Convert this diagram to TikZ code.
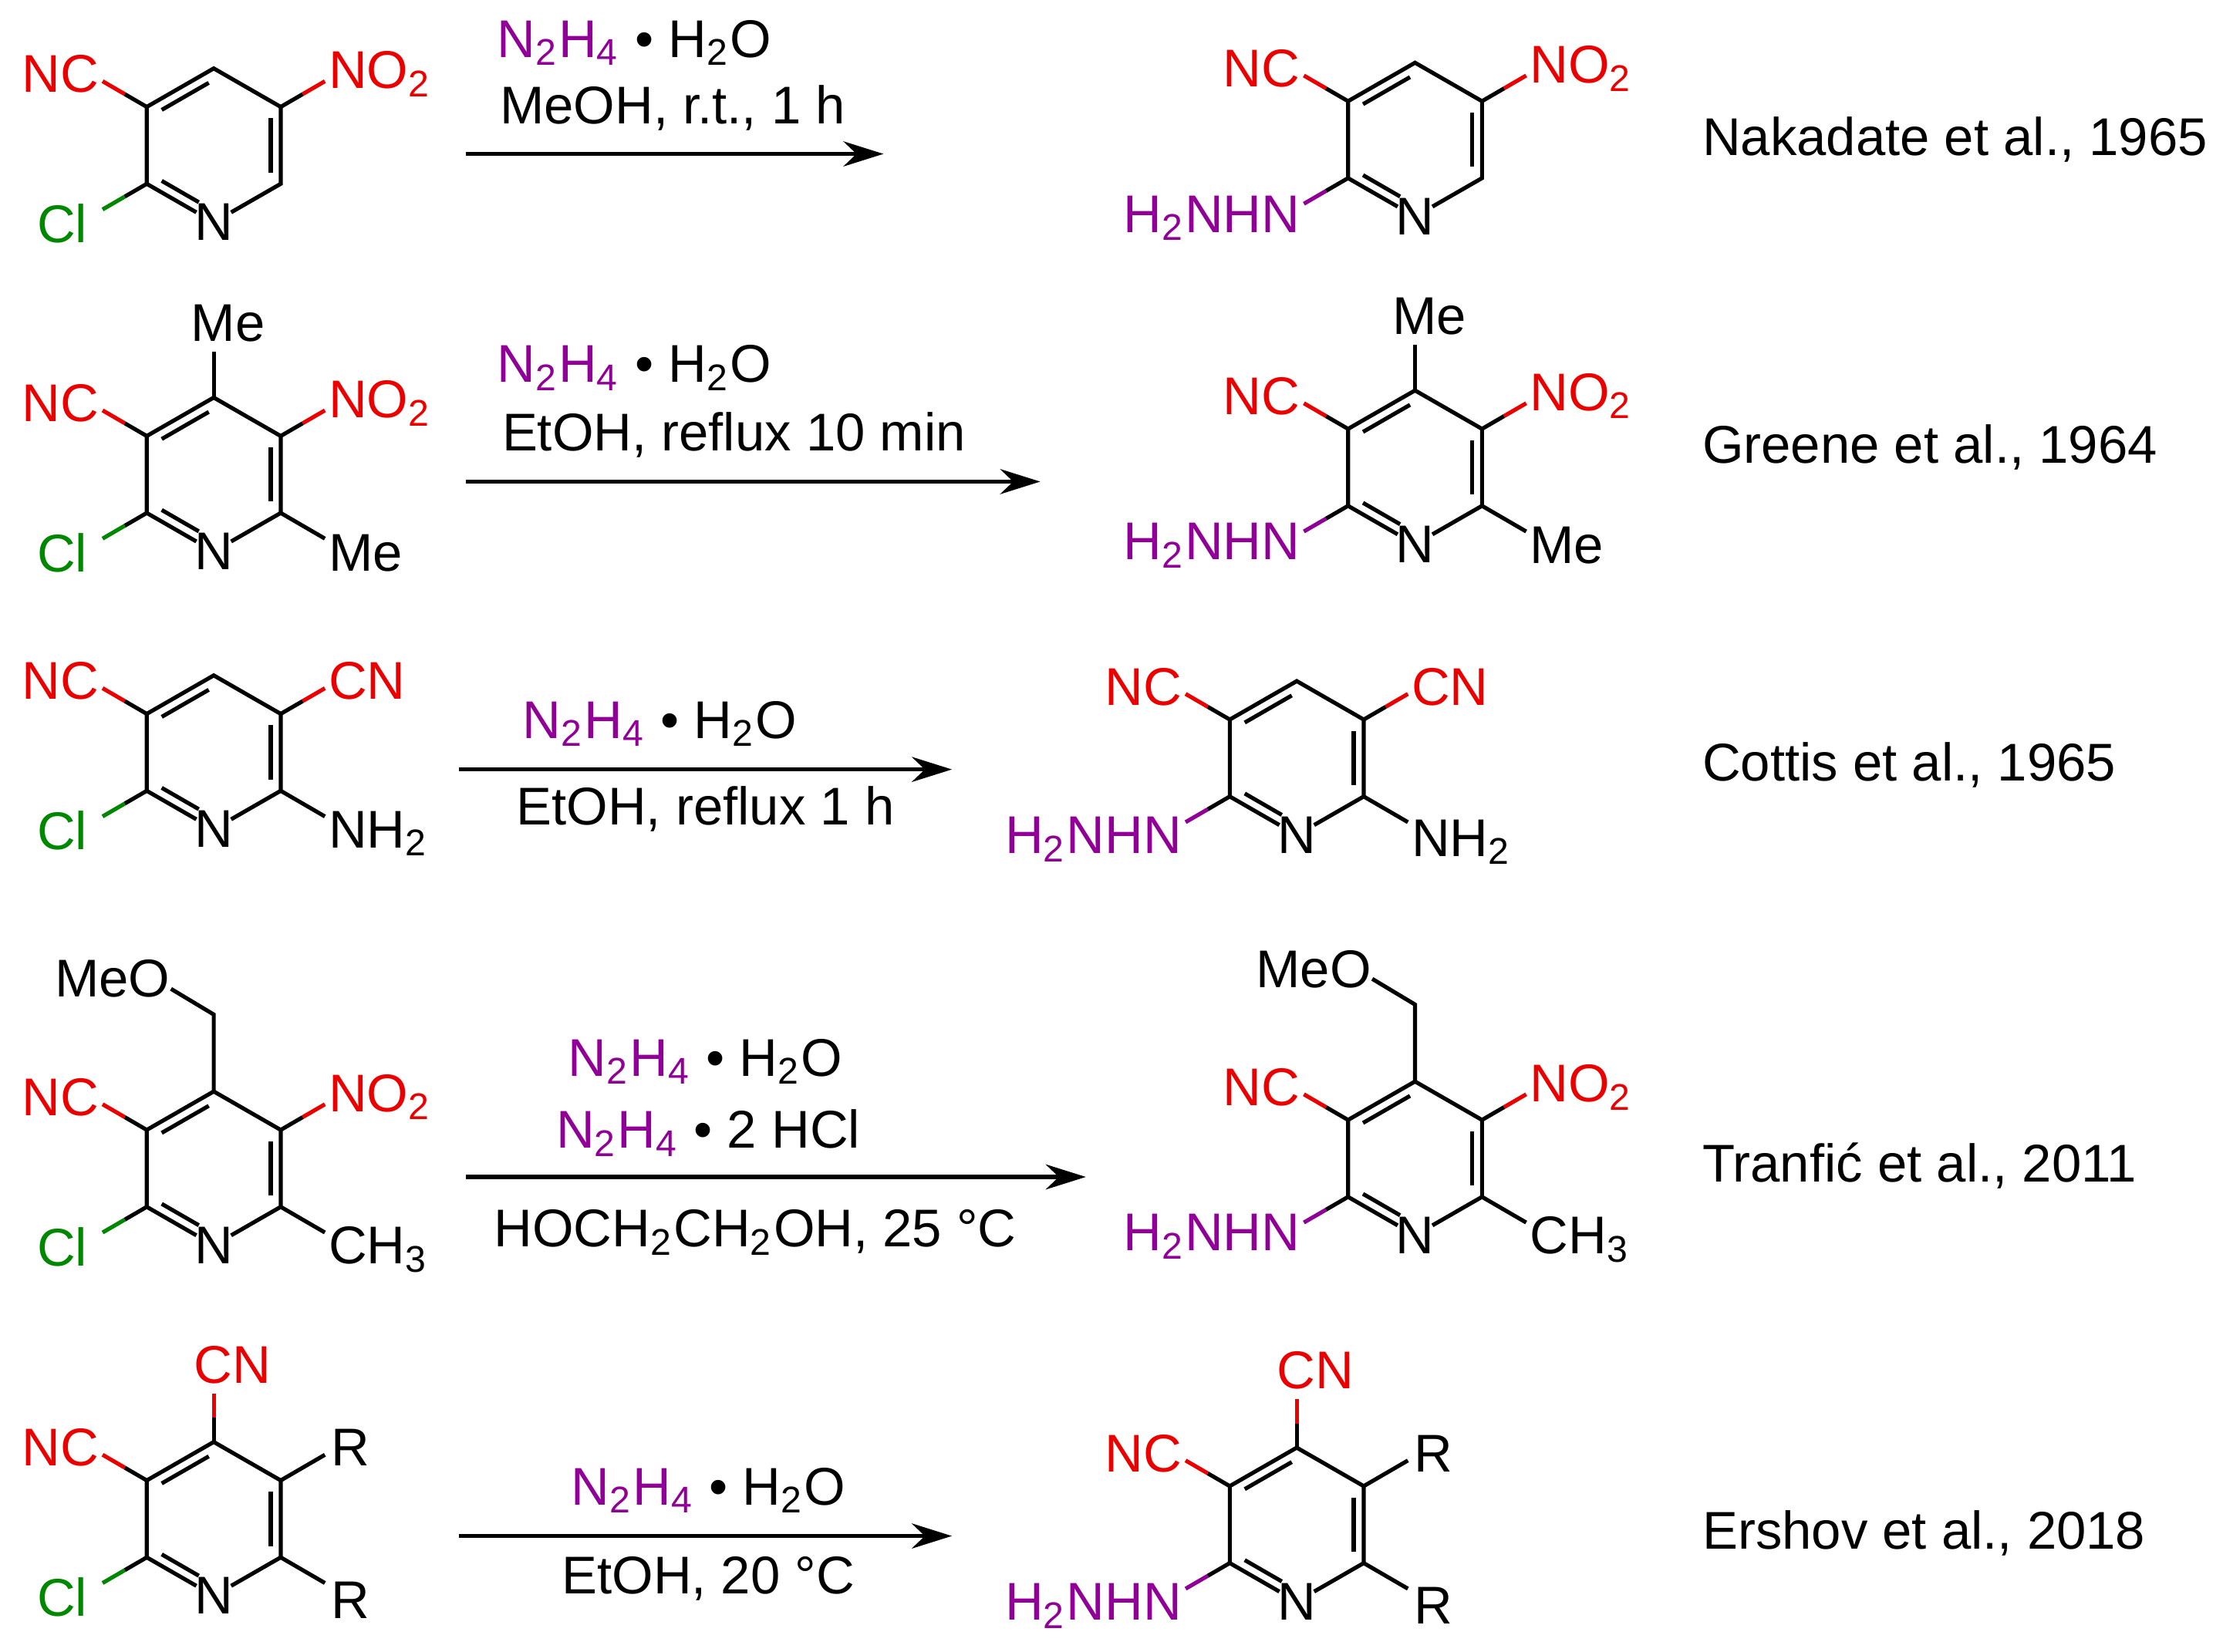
\documentclass[tikz,border=0pt]{standalone}
\usepackage{fontspec}
\setmainfont{Liberation Sans}
\usetikzlibrary{calc,arrows.meta}
\definecolor{nred}{RGB}{235,0,0}
\definecolor{npur}{RGB}{145,0,150}
\definecolor{ngreen}{RGB}{0,135,0}
\tikzset{
  bond/.style={line width=0.8pt},
  lbl/.style={inner sep=0pt,font=\fontsize{10.6}{12}\selectfont},
  rxn/.style={line width=0.8pt,-{Stealth[length=8pt,width=5pt]}},
}
\newcommand{\chsub}[1]{\textsubscript{#1}}
% pyridine ring, N at bottom
\newcommand{\pyring}{%
  \draw[bond] (-47,-27) -- (0,-54) -- (47,-27) -- (47,27) -- (12.2,47);
  \draw[bond] (-12.2,47) -- (-47,27) -- (-47,-27);
  \draw[bond] (-36.5,-24.9) -- (-3.5,-43.9);
  \draw[bond] (40,-19) -- (40,19);
  \draw[bond] (-36.5,24.9) -- (-10.5,39.9);
  \node[lbl] (n) at (0,54) {N};}
% substituent bond, coloured outer half
\newcommand{\subst}[3]{%
  \draw[bond] (#1) -- ($(#1)!.5!(#2)$);
  \draw[bond,#3] ($(#1)!.5!(#2)$) -- (#2);}
\newcommand{\hydr}{\textcolor{npur}{N\chsub{2}H\chsub{4}} \textbullet\ H\chsub{2}O}
\begin{document}
\begin{tikzpicture}[x=0.01cm,y=-0.01cm]
\useasboundingbox (0,0) rectangle (1560,1159);
% ---- row 1
\begin{scope}[shift={(150,102)}]
  \pyring
  \subst{-47,-27}{-78,-45}{nred} \node[lbl,nred,anchor=east] (a1) at (-80,-50) {NC};
  \subst{47,-27}{78,-45}{nred} \node[lbl,nred,anchor=west] (b1) at (80,-50) {NO\chsub{2}};
  \subst{-47,27}{-78,45}{ngreen} \node[lbl,ngreen,anchor=east] (c1) at (-88,55) {Cl};
\end{scope}
\draw[rxn] (327,108) -- (620,108);
\node[lbl] (r1) at (445,30) {\hydr};
\node[lbl] (s1) at (472,76) {MeOH, r.t., 1 h};
\begin{scope}[shift={(993,98)}]
  \pyring
  \subst{-47,-27}{-78,-45}{nred} \node[lbl,nred,anchor=east] (a2) at (-80,-50) {NC};
  \subst{47,-27}{78,-45}{nred} \node[lbl,nred,anchor=west] (b2) at (80,-50) {NO\chsub{2}};
  \subst{-47,27}{-78,45}{npur} \node[lbl,npur,anchor=east] (c2) at (-80,55) {H\chsub{2}NHN};
\end{scope}
\node[lbl,anchor=west] (ref1) at (1194,98) {Nakadate et al., 1965};
% ---- row 2
\begin{scope}[shift={(150,333)}]
  \pyring
  \draw[bond] (0,-54) -- (0,-86); \node[lbl] (m1) at (10,-106) {Me};
  \subst{-47,-27}{-78,-45}{nred} \node[lbl,nred,anchor=east] (a3) at (-80,-50) {NC};
  \subst{47,-27}{78,-45}{nred} \node[lbl,nred,anchor=west] (b3) at (80,-50) {NO\chsub{2}};
  \subst{-47,27}{-78,45}{ngreen} \node[lbl,ngreen,anchor=east] (c3) at (-88,55) {Cl};
  \draw[bond] (47,27) -- (78,45); \node[lbl,anchor=west] (d3) at (80,55) {Me};
\end{scope}
\draw[rxn] (327,338) -- (730,338);
\node[lbl] (r2) at (445,258) {\hydr};
\node[lbl] (s2) at (515,305) {EtOH, reflux 10 min};
\begin{scope}[shift={(993,328)}]
  \pyring
  \draw[bond] (0,-54) -- (0,-86); \node[lbl] (m2) at (10,-106) {Me};
  \subst{-47,-27}{-78,-45}{nred} \node[lbl,nred,anchor=east] (a4) at (-80,-50) {NC};
  \subst{47,-27}{78,-45}{nred} \node[lbl,nred,anchor=west] (b4) at (80,-50) {NO\chsub{2}};
  \subst{-47,27}{-78,45}{npur} \node[lbl,npur,anchor=east] (c4) at (-80,55) {H\chsub{2}NHN};
  \draw[bond] (47,27) -- (78,45); \node[lbl,anchor=west] (d4) at (80,55) {Me};
\end{scope}
\node[lbl,anchor=west] (ref2) at (1194,314) {Greene et al., 1964};
% ---- row 3
\begin{scope}[shift={(150,528)}]
  \pyring
  \subst{-47,-27}{-78,-45}{nred} \node[lbl,nred,anchor=east] (a5) at (-80,-50) {NC};
  \subst{47,-27}{78,-45}{nred} \node[lbl,nred,anchor=west] (b5) at (80,-50) {CN};
  \subst{-47,27}{-78,45}{ngreen} \node[lbl,ngreen,anchor=east] (c5) at (-88,55) {Cl};
  \draw[bond] (47,27) -- (78,45); \node[lbl,anchor=west] (d5) at (80,57) {NH\chsub{2}};
\end{scope}
\draw[rxn] (322,540) -- (668,540);
\node[lbl] (r3) at (463,508) {\hydr};
\node[lbl] (s3) at (495,568) {EtOH, reflux 1 h};
\begin{scope}[shift={(910,532)}]
  \pyring
  \subst{-47,-27}{-78,-45}{nred} \node[lbl,nred,anchor=east] (a6) at (-80,-50) {NC};
  \subst{47,-27}{78,-45}{nred} \node[lbl,nred,anchor=west] (b6) at (80,-50) {CN};
  \subst{-47,27}{-78,45}{npur} \node[lbl,npur,anchor=east] (c6) at (-80,57) {H\chsub{2}NHN};
  \draw[bond] (47,27) -- (78,45); \node[lbl,anchor=west] (d6) at (80,59) {NH\chsub{2}};
\end{scope}
\node[lbl,anchor=west] (ref3) at (1194,537) {Cottis et al., 1965};
% ---- row 4
\begin{scope}[shift={(150,820)}]
  \pyring
  \draw[bond] (0,-54) -- (0,-108) -- (-30,-126); \node[lbl,anchor=east] (o1) at (-30,-133) {MeO};
  \subst{-47,-27}{-78,-45}{nred} \node[lbl,nred,anchor=east] (a7) at (-80,-50) {NC};
  \subst{47,-27}{78,-45}{nred} \node[lbl,nred,anchor=west] (b7) at (80,-50) {NO\chsub{2}};
  \subst{-47,27}{-78,45}{ngreen} \node[lbl,ngreen,anchor=east] (c7) at (-88,55) {Cl};
  \draw[bond] (47,27) -- (78,45); \node[lbl,anchor=west] (d7) at (80,57) {CH\chsub{3}};
\end{scope}
\draw[rxn] (327,826) -- (762,826);
\node[lbl] (r4) at (495,745) {\hydr};
\node[lbl] (r5) at (497,795) {\textcolor{npur}{N\chsub{2}H\chsub{4}} \textbullet\ 2 HCl};
\node[lbl] (s4) at (530,865) {HOCH\chsub{2}CH\chsub{2}OH, 25 °C};
\begin{scope}[shift={(993,813)}]
  \pyring
  \draw[bond] (0,-54) -- (0,-108) -- (-30,-126); \node[lbl,anchor=east] (o2) at (-30,-133) {MeO};
  \subst{-47,-27}{-78,-45}{nred} \node[lbl,nred,anchor=east] (a8) at (-80,-50) {NC};
  \subst{47,-27}{78,-45}{nred} \node[lbl,nred,anchor=west] (b8) at (80,-50) {NO\chsub{2}};
  \subst{-47,27}{-78,45}{npur} \node[lbl,npur,anchor=east] (c8) at (-80,55) {H\chsub{2}NHN};
  \draw[bond] (47,27) -- (78,45); \node[lbl,anchor=west] (d8) at (80,57) {CH\chsub{3}};
\end{scope}
\node[lbl,anchor=west] (ref4) at (1194,818) {Tranfić et al., 2011};
% ---- row 5
\begin{scope}[shift={(150,1066)}]
  \pyring
  \subst{0,-54}{0,-88}{nred} \node[lbl,nred] (e1) at (13,-108) {CN};
  \subst{-47,-27}{-78,-45}{nred} \node[lbl,nred,anchor=east] (a9) at (-80,-50) {NC};
  \draw[bond] (47,-27) -- (78,-45); \node[lbl,anchor=west] (b9) at (82,-50) {R};
  \subst{-47,27}{-78,45}{ngreen} \node[lbl,ngreen,anchor=east] (c9) at (-88,55) {Cl};
  \draw[bond] (47,27) -- (78,45); \node[lbl,anchor=west] (d9) at (82,57) {R};
\end{scope}
\draw[rxn] (322,1078) -- (668,1078);
\node[lbl] (r6) at (497,1046) {\hydr};
\node[lbl] (s5) at (497,1108) {EtOH, 20 °C};
\begin{scope}[shift={(910,1070)}]
  \pyring
  \subst{0,-54}{0,-88}{nred} \node[lbl,nred] (e2) at (13,-108) {CN};
  \subst{-47,-27}{-78,-45}{nred} \node[lbl,nred,anchor=east] (a10) at (-80,-50) {NC};
  \draw[bond] (47,-27) -- (78,-45); \node[lbl,anchor=west] (b10) at (82,-50) {R};
  \subst{-47,27}{-78,45}{npur} \node[lbl,npur,anchor=east] (c10) at (-80,57) {H\chsub{2}NHN};
  \draw[bond] (47,27) -- (78,45); \node[lbl,anchor=west] (d10) at (82,57) {R};
\end{scope}
\node[lbl,anchor=west] (ref5) at (1194,1076) {Ershov et al., 2018};
\end{tikzpicture}
\end{document}
